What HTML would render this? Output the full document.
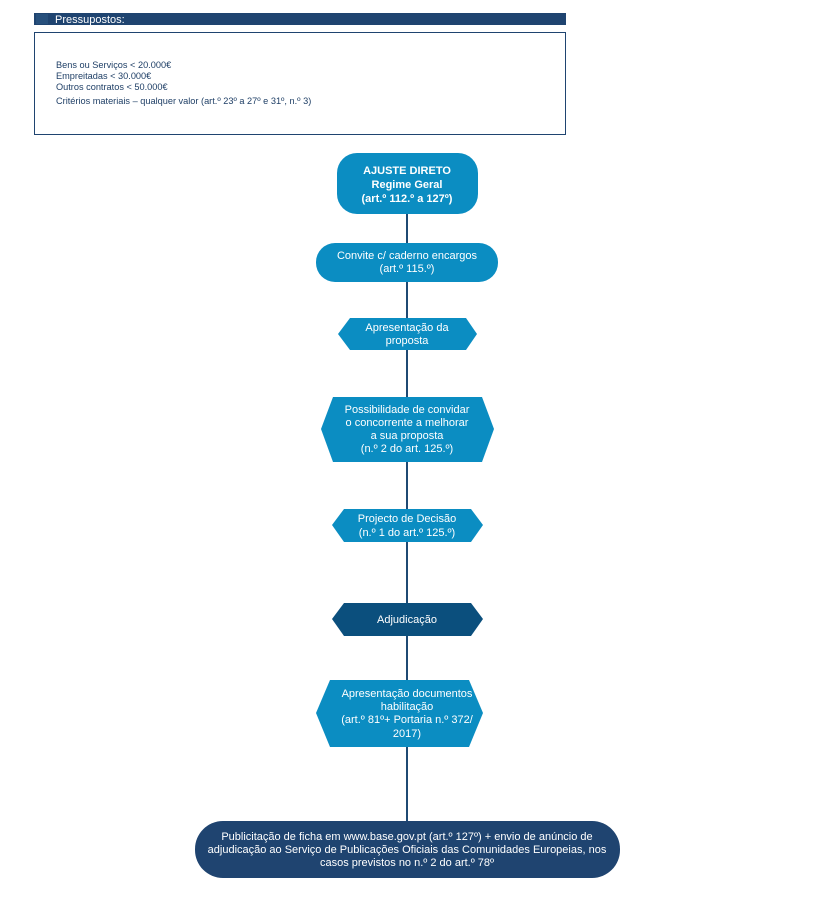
<!DOCTYPE html>
<html><head><meta charset="utf-8"><style>
html,body{margin:0;padding:0;background:#fff;}
svg{display:block;}
text{font-family:"Liberation Sans",Arial,sans-serif;}
</style></head><body>
<svg width="821" height="900" viewBox="0 0 821 900" xmlns="http://www.w3.org/2000/svg">
<rect x="34" y="13" width="532" height="12" fill="#1f4470"/>
<rect x="36" y="14" width="12" height="10" fill="#27507c"/>
<text x="55" y="23" font-size="11" fill="#fff">Pressupostos:</text>
<rect x="34.5" y="32.5" width="531" height="102" fill="#fff" stroke="#1f4470" stroke-width="1"/>
<g font-size="9.2" fill="#1f3f66">
<text x="56" y="68">Bens ou Serviços &lt; 20.000€</text>
<text x="56" y="79">Empreitadas &lt; 30.000€</text>
<text x="56" y="90">Outros contratos &lt; 50.000€</text>
<text x="56" y="104">Critérios materiais – qualquer valor (art.º 23º a 27º e 31º, n.º 3)</text>
</g>
<line x1="407" y1="210" x2="407" y2="824" stroke="#1f4a73" stroke-width="2"/>
<g fill="#0b8dc2">
<rect x="337" y="153" width="141" height="61" rx="20"/>
<rect x="316" y="243" width="182" height="39" rx="19"/>
<polygon points="338,334 350,318 466,318 477,334 466,350 350,350"/>
<polygon points="321,429 333,397 482,397 494,429 482,462 333,462"/>
<polygon points="332,525 344,509 471,509 483,525 471,542 344,542"/>
<polygon points="316,713 330,680 469,680 483,713 469,747 330,747"/>
</g>
<polygon points="332,619 344,603 471,603 483,619 471,636 344,636" fill="#0b4f7d"/>
<rect x="195" y="821" width="425" height="57" rx="28" fill="#1f4470"/>
<g fill="#fff" text-anchor="middle" font-size="11">
<text x="407" y="174" font-weight="bold">AJUSTE DIRETO</text>
<text x="407" y="188" font-weight="bold">Regime Geral</text>
<text x="407" y="202" font-weight="bold">(art.º 112.º a 127º)</text>
<text x="407" y="259">Convite c/ caderno encargos</text>
<text x="407" y="272">(art.º 115.º)</text>
<text x="407" y="331">Apresentação da</text>
<text x="407" y="344">proposta</text>
<text x="407" y="413">Possibilidade de convidar</text>
<text x="407" y="426">o concorrente a melhorar</text>
<text x="407" y="439">a sua proposta</text>
<text x="407" y="452">(n.º 2 do art. 125.º)</text>
<text x="407" y="522">Projecto de Decisão</text>
<text x="407" y="536">(n.º 1 do art.º 125.º)</text>
<text x="407" y="623">Adjudicação</text>
<text x="407" y="697">Apresentação documentos</text>
<text x="407" y="710">habilitação</text>
<text x="407" y="723">(art.º 81º+ Portaria n.º 372/</text>
<text x="407" y="737">2017)</text>
<text x="407" y="840">Publicitação de ficha em www.base.gov.pt (art.º 127º) + envio de anúncio de</text>
<text x="407" y="853">adjudicação ao Serviço de Publicações Oficiais das Comunidades Europeias, nos</text>
<text x="407" y="866">casos previstos no n.º 2 do art.º 78º</text>
</g>
</svg>
</body></html>
